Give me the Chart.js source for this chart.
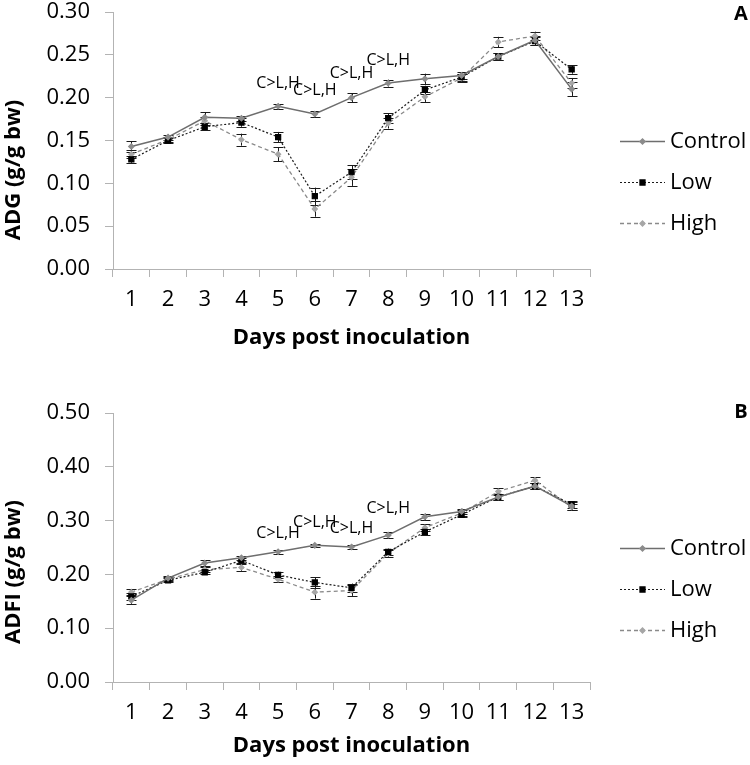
<!DOCTYPE html>
<html><head><meta charset="utf-8">
<script src="https://cdn.jsdelivr.net/npm/chart.js@4"></script>
<style>
html,body{margin:0;padding:0;background:#fff;}
canvas{display:block;}
</style></head><body>
<canvas id="cA" width="750" height="380"></canvas>
<canvas id="cB" width="750" height="385"></canvas>
<script>
const days = ['1','2','3','4','5','6','7','8','9','10','11','12','13'];
const seriesNames = ['Control','Low','High'];

const adgControl = [0.143,0.154,0.177,0.176,0.190,0.181,0.200,0.217,0.222,0.226,0.248,0.267,0.210];
const adgLow     = [0.128,0.150,0.166,0.171,0.154,0.085,0.113,0.176,0.209,0.224,0.248,0.266,0.233];
const adgHigh    = [0.134,0.151,0.173,0.151,0.134,0.070,0.107,0.170,0.201,0.223,0.265,0.272,0.217];
const adgControlErr = [0.006,0.003,0.006,0.003,0.003,0.003,0.005,0.004,0.006,0.004,0.004,0.005,0.008];
const adgLowErr     = [0.004,0.003,0.004,0.005,0.006,0.010,0.008,0.006,0.005,0.004,0.004,0.005,0.005];
const adgHighErr    = [0.005,0.003,0.005,0.007,0.008,0.009,0.010,0.006,0.006,0.005,0.006,0.005,0.006];

const adfiControl = [0.152,0.193,0.221,0.231,0.242,0.254,0.251,0.273,0.307,0.317,0.344,0.364,0.327];
const adfiLow     = [0.159,0.189,0.204,0.226,0.199,0.185,0.175,0.242,0.279,0.311,0.344,0.364,0.330];
const adfiHigh    = [0.167,0.191,0.209,0.213,0.191,0.167,0.170,0.239,0.287,0.314,0.354,0.375,0.325];
const adfiControlErr = [0.007,0.004,0.005,0.004,0.004,0.003,0.004,0.005,0.006,0.005,0.005,0.006,0.007];
const adfiLowErr     = [0.006,0.004,0.004,0.005,0.006,0.010,0.008,0.006,0.005,0.005,0.005,0.006,0.006];
const adfiHighErr    = [0.006,0.004,0.005,0.007,0.006,0.012,0.010,0.006,0.006,0.005,0.006,0.006,0.006];

const adgNoteDays = ['5','6','7','8'];
const adgNoteValues = [0.217,0.208,0.228,0.244];
const adfiNoteDays = ['5','6','7','8'];
const adfiNoteValues = [0.276,0.296,0.286,0.323];
const noteText = 'C>L,H';

const FONT = "'Open Sans', sans-serif";
const AXIS = '#b3b3b3';

const styles = [
  {borderColor:'#6e6e6e', borderWidth:1.5, borderDash:[], pointStyle:'rectRot', pointRadius:2.5, pointBackgroundColor:'#8c8c8c', pointBorderColor:'#8c8c8c'},
  {borderColor:'#1a1a1a', borderWidth:1.2, borderDash:[2,2], pointStyle:'rect', pointRadius:3.6, pointBackgroundColor:'#000', pointBorderColor:'#000'},
  {borderColor:'#8a8a8a', borderWidth:1.3, borderDash:[4,3], pointStyle:'rectRot', pointRadius:2.5, pointBackgroundColor:'#a6a6a6', pointBorderColor:'#a6a6a6'}
];

const panelPlugin = {
  id:'panel',
  beforeDatasetsDraw(chart){
    const ctx = chart.ctx, ys = chart.scales.y;
    ctx.save();
    ctx.strokeStyle = '#1a1a1a'; ctx.lineWidth = 1;
    chart.data.datasets.forEach((ds,i)=>{
      const meta = chart.getDatasetMeta(i);
      ds.errors.forEach((e,j)=>{
        const pt = meta.data[j];
        const x = Math.round(pt.x)+0.5;
        const t = ys.getPixelForValue(ds.data[j]+e), b = ys.getPixelForValue(ds.data[j]-e);
        ctx.beginPath();
        ctx.moveTo(x,t); ctx.lineTo(x,b);
        ctx.moveTo(x-5,Math.round(t)+0.5); ctx.lineTo(x+5,Math.round(t)+0.5);
        ctx.moveTo(x-5,Math.round(b)+0.5); ctx.lineTo(x+5,Math.round(b)+0.5);
        ctx.stroke();
      });
    });
    ctx.restore();
  },
  afterDraw(chart){
    const o = chart.options.plugins.panel;
    const ctx = chart.ctx, xs = chart.scales.x, ys = chart.scales.y, ca = chart.chartArea;
    ctx.save();
    ctx.fillStyle = '#000';
    // annotations
    ctx.font = "16px " + FONT; ctx.textAlign='center'; ctx.textBaseline='middle';
    o.noteDays.forEach((d,i)=>{
      ctx.fillText(noteText, xs.getPixelForValue(xs.getLabels().indexOf(d)), ys.getPixelForValue(o.noteValues[i]));
    });
    // axis titles
    ctx.font = "bold 22px " + FONT;
    ctx.fillText(o.xTitle, (ca.left+ca.right)/2, o.xTitleY);
    ctx.save();
    ctx.translate(14, o.yTitleY); ctx.rotate(-Math.PI/2);
    ctx.fillText(o.yTitle, 0, 0);
    ctx.restore();
    // panel letter
    ctx.font = "bold 20px " + FONT;
    ctx.fillText(o.letter, 741, o.letterY);
    // legend
    const mid = (ca.top+ca.bottom)/2 + 41;
    chart.data.datasets.forEach((ds,i)=>{
      const y = Math.round(mid + (i-1)*41)+0.5;
      ctx.save();
      ctx.strokeStyle = ds.borderColor; ctx.lineWidth = ds.borderWidth; ctx.setLineDash(ds.borderDash);
      ctx.beginPath(); ctx.moveTo(620,y); ctx.lineTo(665,y); ctx.stroke();
      ctx.setLineDash([]);
      ctx.fillStyle = ds.pointBackgroundColor; ctx.strokeStyle = ds.pointBorderColor;
      Chart.helpers.drawPoint(ctx,{pointStyle:ds.pointStyle, radius:ds.pointRadius, rotation:0, borderWidth:1}, 642.5, y);
      ctx.restore();
      ctx.font = "22px " + FONT; ctx.textAlign='left'; ctx.textBaseline='middle'; ctx.fillStyle='#000';
      ctx.fillText(seriesNames[i], 670, y);
    });
    ctx.restore();
  }
};

function makeChart(id, vals, errs, ymax, step, padTop, xHeight, panel){
  return new Chart(document.getElementById(id), {
    type:'line',
    data:{
      labels: days,
      datasets: vals.map((v,i)=>Object.assign({label:seriesNames[i], data:v, errors:errs[i], fill:false, tension:0}, styles[i]))
    },
    options:{
      responsive:false, animation:false, devicePixelRatio:1,
      layout:{padding:{left:0,right:160,top:padTop,bottom:0}},
      plugins:{legend:{display:false}, tooltip:{enabled:false}, panel:panel},
      scales:{
        x:{type:'category', offset:true,
           grid:{offset:true, drawOnChartArea:false, drawTicks:true, tickLength:8, color:AXIS, lineWidth:1},
           border:{color:AXIS, width:1},
           ticks:{font:{family:FONT, size:22}, color:'#000', padding:10, maxRotation:0, autoSkip:false},
           afterFit(s){ s.height = xHeight; s.paddingLeft = 0; s.paddingRight = 0; }},
        y:{min:0, max:ymax,
           grid:{drawOnChartArea:false, drawTicks:true, tickLength:8, color:AXIS, lineWidth:1},
           border:{color:AXIS, width:1},
           ticks:{stepSize:step, font:{family:FONT, size:22}, color:'#000', padding:15, callback:v=>v.toFixed(2)},
           afterFit(s){ s.width = 113; s.paddingTop = 0; s.paddingBottom = 0; }}
      }
    },
    plugins:[panelPlugin]
  });
}

makeChart('cA', [adgControl, adgLow, adgHigh], [adgControlErr, adgLowErr, adgHighErr], 0.30, 0.05, 12, 111,
  {noteDays:adgNoteDays, noteValues:adgNoteValues, xTitle:'Days post inoculation', xTitleY:338, yTitle:'ADG (g/g bw)', yTitleY:170, letter:'A', letterY:14});
makeChart('cB', [adfiControl, adfiLow, adfiHigh], [adfiControlErr, adfiLowErr, adfiHighErr], 0.50, 0.10, 33, 83,
  {noteDays:adfiNoteDays, noteValues:adfiNoteValues, xTitle:'Days post inoculation', xTitleY:366, yTitle:'ADFI (g/g bw)', yTitleY:192, letter:'B', letterY:32});
</script>
</body></html>
